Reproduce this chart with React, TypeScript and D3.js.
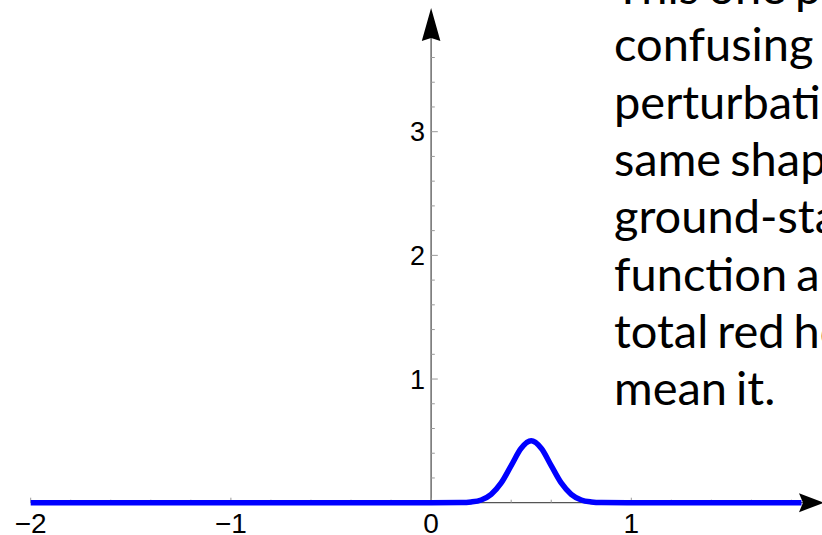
import React from "react";
import * as d3 from "d3";

const W = 822;
const H = 535;

// Curve samples (x, y)
const curveX = [-2, 0, 0.15, 0.2, 0.25, 0.3, 0.35, 0.4, 0.45, 0.5, 0.55, 0.6, 0.65, 0.7, 0.75, 0.8, 0.85, 1, 1.85];
const curveY = [0, 0, 0.001, 0.006, 0.022, 0.068, 0.16, 0.3, 0.44, 0.5, 0.44, 0.3, 0.16, 0.068, 0.022, 0.006, 0.001, 0, 0];

const xMajor = [-2, -1, 0, 1];
const xMajorLabels = ["\u22122", "\u22121", "0", "1"];
const yMajor = [1, 2, 3];
const yMajorLabels = ["1", "2", "3"];

const textLines = [
  "This one produces",
  "confusing - the",
  "perturbation has",
  "same shape as",
  "ground-state wave",
  "function and the",
  "total red however",
  "mean it.",
];

export default function App() {
  const x = d3.scaleLinear().domain([-2, 1]).range([30.7, 631.3]);
  const y = d3.scaleLinear().domain([0, 3]).range([502.7, 131.7]);

  const xMinor = d3.range(-2, 1.81, 0.2).map((v) => Math.round(v * 10) / 10).filter((v) => !xMajor.includes(v));
  const yMinor = d3.range(0.2, 3.61, 0.2).map((v) => Math.round(v * 10) / 10).filter((v) => !yMajor.includes(v));

  const pts: [number, number][] = curveX.map((v, i) => [v, curveY[i]]);
  const line = d3
    .line<[number, number]>()
    .x((d) => x(d[0]))
    .y((d) => y(d[1]))
    .curve(d3.curveMonotoneX);

  const x0 = x(0);
  const y0 = y(0);

  return (
    <svg width={W} height={H} style={{ position: "absolute", left: 0, top: 0, background: "#fff" }}>
      {/* y axis */}
      <line x1={x0} x2={x0} y1={y0} y2={30} stroke="#555" strokeWidth={1.3} />
      <path d={`M${x0},8 L${x0 + 9.3},41 L${x0},38 L${x0 - 9.3},41 Z`} fill="#000" />
      {yMinor.map((v) => (
        <line key={"ym" + v} x1={x0} x2={x0 + 3.7} y1={y(v)} y2={y(v)} stroke="#999" strokeWidth={1} />
      ))}
      {yMajor.map((v, i) => (
        <g key={"yM" + v}>
          <line x1={x0} x2={x0 + 6.7} y1={y(v)} y2={y(v)} stroke="#999" strokeWidth={1} />
          <text x={425} y={y(v)} dy="0.36em" textAnchor="end" fontFamily="Liberation Sans, Arial, sans-serif" fontSize={27} fill="#000">
            {yMajorLabels[i]}
          </text>
        </g>
      ))}
      {/* x axis */}
      <line x1={x(-2)} x2={805} y1={y0} y2={y0} stroke="#555" strokeWidth={1.3} />
      {xMinor.map((v) => (
        <line key={"xm" + v} x1={x(v)} x2={x(v)} y1={y0} y2={y0 - 3} stroke="#999" strokeWidth={1} />
      ))}
      {xMajor.map((v, i) => (
        <g key={"xM" + v}>
          <line x1={x(v)} x2={x(v)} y1={y0} y2={y0 - 5} stroke="#999" strokeWidth={1} />
          <text x={x(v)} y={533} textAnchor="middle" fontFamily="Liberation Sans, Arial, sans-serif" fontSize={28} fill="#000">
            {xMajorLabels[i]}
          </text>
        </g>
      ))}
      {/* curve */}
      <path d={line(pts) || ""} fill="none" stroke="#0000ff" strokeWidth={5.5} strokeLinejoin="round" />
      <path d={`M824,${y0} L799,${y0 - 9.5} L803,${y0} L799,${y0 + 9.5} Z`} fill="#000" />
      {/* annotation text */}
      {textLines.map((t, i) => (
        <text key={i} x={614} y={4 + i * 57.3} fontFamily="Lato, Carlito, Calibri, sans-serif" fontSize={47} fill="#000" wordSpacing={-3}>
          {t}
        </text>
      ))}
    </svg>
  );
}
